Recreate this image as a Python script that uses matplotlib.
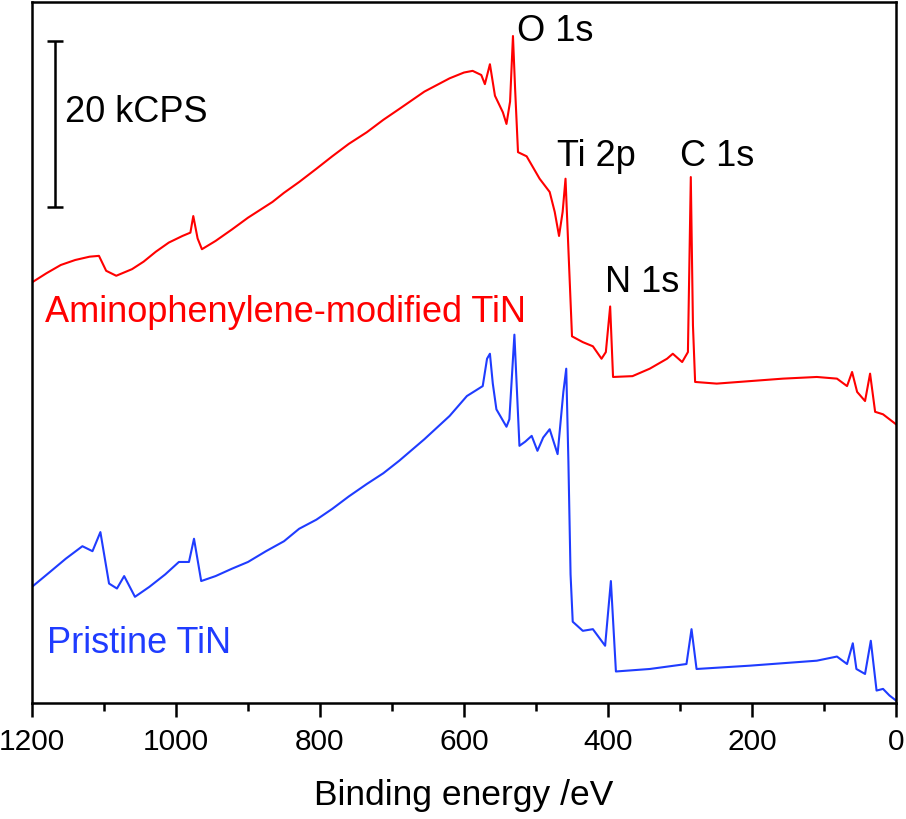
import matplotlib
matplotlib.use("Agg")
import matplotlib.pyplot as plt
from matplotlib.ticker import MultipleLocator

plt.rcParams['font.family'] = ['Liberation Sans', 'DejaVu Sans']

# Binding energy (eV) and intensity (kCPS, arbitrary offset)
red_ev = [1200, 1180, 1160, 1140, 1120, 1107, 1097, 1083, 1061, 1045, 1028, 1010, 991, 980,
          976, 970, 964, 945, 922, 900, 866, 850, 829, 805, 783, 760, 735, 712, 690, 655,
          620, 600, 588, 576, 571, 564, 557, 546, 541, 536, 532, 529, 525, 513, 495, 481,
          474, 468, 463, 459, 456, 450, 435, 421, 409, 403, 397, 393, 366, 342, 318, 310,
          297, 289, 285, 282, 279, 249, 203, 157, 110, 82, 68, 61, 54, 43, 36, 29, 18, 9, 0]
red_k = [50.2, 51.3, 52.3, 52.9, 53.3, 53.4, 51.6, 51.0, 51.8, 52.7, 53.9, 55.0, 55.8, 56.2,
         58.2, 55.5, 54.2, 55.2, 56.6, 58.0, 59.9, 61.0, 62.3, 63.9, 65.4, 66.9, 68.3, 69.8, 71.1, 73.2,
         74.8, 75.5, 75.7, 75.2, 74.1, 76.5, 72.7, 70.7, 69.3, 72.0, 79.9, 73.5, 65.9, 65.4, 62.7, 61.1,
         58.7, 55.8, 58.7, 62.7, 56.3, 43.7, 43.0, 42.5, 41.0, 41.8, 47.3, 38.8, 38.9, 39.8, 41.0, 41.6,
         40.6, 41.8, 62.9, 45.0, 38.2, 38.0, 38.3, 38.6, 38.8, 38.6, 37.7, 39.4, 37.0, 35.9, 39.2, 34.6, 34.3, 33.7, 33.1]

blue_ev = [1200, 1175, 1153, 1130, 1116, 1105, 1093, 1082, 1072, 1057, 1037, 1015, 996, 982,
           975, 965, 945, 922, 900, 875, 850, 829, 805, 783, 760, 735, 712, 690, 655, 620,
           596, 574, 568, 564, 560, 555, 541, 537, 530, 523, 515, 506, 498, 490, 481, 470,
           462, 458, 455, 452, 449, 435, 421, 404, 396, 389, 342, 291, 284, 277, 203, 110,
           82, 68, 60, 55, 43, 35, 27, 18, 9, 0]
blue_k = [13.5, 15.3, 16.9, 18.4, 17.8, 20.1, 13.9, 13.3, 14.8, 12.3, 13.5, 15.0, 16.5, 16.5,
          19.3, 14.2, 14.8, 15.7, 16.5, 17.8, 19.0, 20.5, 21.6, 22.9, 24.4, 25.9, 27.2, 28.7, 31.3, 34.1,
          36.5, 37.7, 41.0, 41.6, 38.0, 34.9, 32.8, 33.7, 43.9, 30.5, 31.0, 31.7, 29.9, 31.5, 32.5, 29.5,
          37.0, 39.8, 28.6, 15.0, 9.3, 8.2, 8.4, 6.4, 14.2, 3.3, 3.6, 4.2, 8.4, 3.6, 4.0, 4.6,
          5.1, 4.2, 6.7, 3.6, 3.0, 7.0, 1.0, 1.2, 0.4, -0.2]

x_ticks = [1200, 1000, 800, 600, 400, 200, 0]
scale_bar_kcps = 20

peak_labels = ["O 1s", "Ti 2p", "C 1s", "N 1s"]
sample_labels = ["Aminophenylene-modified TiN", "Pristine TiN"]

RED = "#ff0000"
BLUE = "#1f3cff"
FS = 26

fig = plt.figure(figsize=(9.06, 8.2), dpi=100)
ax = fig.add_axes([32 / 906, 1 - 704 / 820, 864 / 906, 701 / 820])

ax.plot(red_ev, red_k, color=RED, lw=1.5)
ax.plot(blue_ev, blue_k, color=BLUE, lw=1.5)

ax.set_xlim(1200, 0)
ax.set_ylim(-0.5, 84)
ax.set_xticks(x_ticks)
ax.set_xticklabels([str(t) for t in x_ticks])
ax.xaxis.set_minor_locator(MultipleLocator(100))
ax.set_yticks([])
ax.tick_params(axis='x', which='major', direction='out', length=10, width=1.8, labelsize=21.5, pad=7)
ax.tick_params(axis='x', which='minor', direction='out', length=5.5, width=1.8)
for s in ax.spines.values():
    s.set_linewidth(1.8)
ax.set_xlabel("Binding energy /eV", fontsize=25.5, labelpad=17)

# scale bar
ax.errorbar([1168], [69.3], yerr=[scale_bar_kcps / 2], color='black', capsize=6,
            elinewidth=1.8, capthick=1.8)
ax.text(1154, 69.6, f"{scale_bar_kcps} kCPS", fontsize=FS, va='baseline', ha='left')

# peak labels
pk_pos = [(526, 79.4), (471, 64.3), (300, 64.3), (404, 49.2)]
for lab, (xx, yy) in zip(peak_labels, pk_pos):
    ax.text(xx, yy, lab, fontsize=FS, va='baseline', ha='left')

ax.text(1182, 45.5, sample_labels[0], fontsize=FS, color=RED, va='baseline', ha='left')
ax.text(1179, 5.7, sample_labels[1], fontsize=FS, color=BLUE, va='baseline', ha='left')

fig.savefig("out.png", dpi=100)
